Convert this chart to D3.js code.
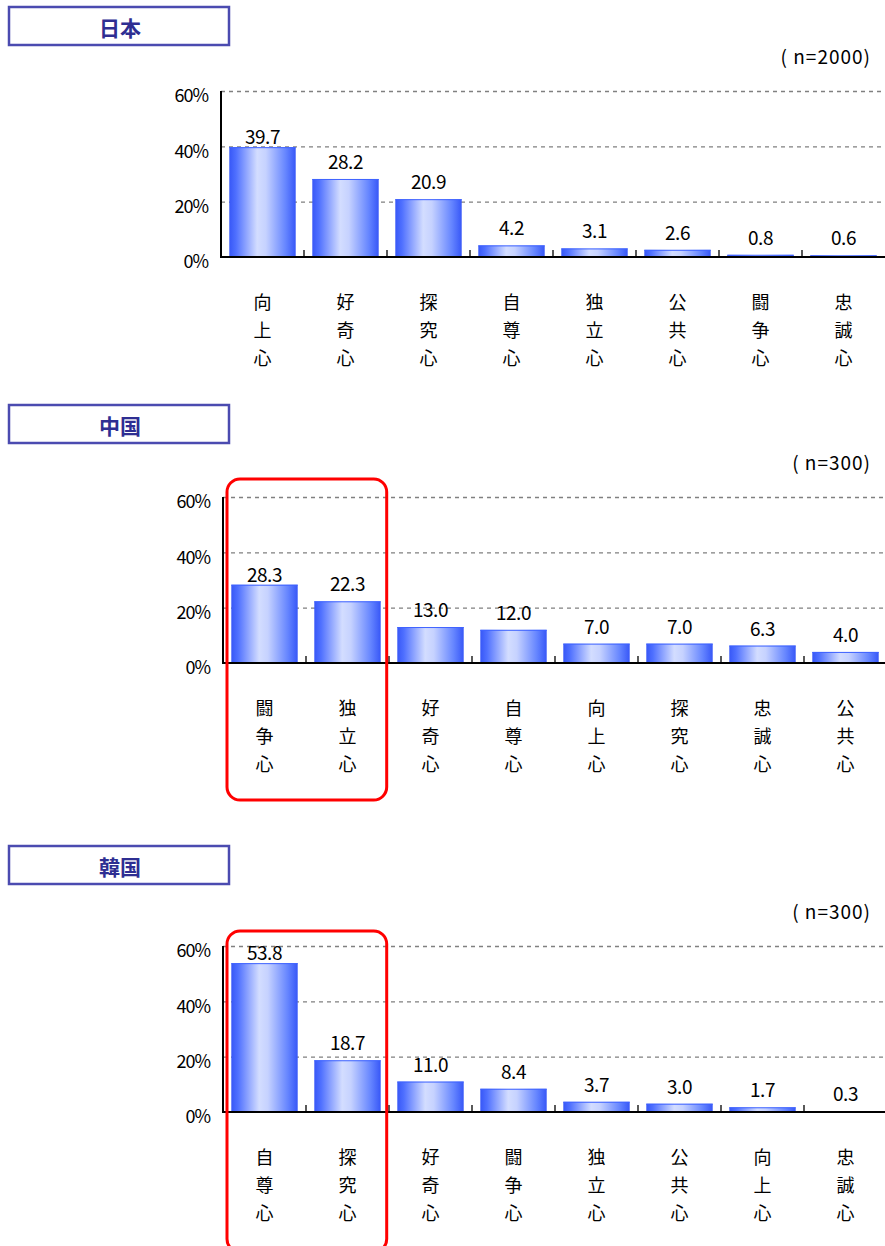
<!DOCTYPE html>
<html>
<head>
<meta charset="utf-8">
<script src="https://cdn.jsdelivr.net/npm/d3@7"></script>
<style>
  body { margin: 0; background: #fff; }
  svg text { font-family: "Noto Sans CJK JP", "DejaVu Sans", sans-serif; }
</style>
</head>
<body>
<div id="chart"></div>
<script>
// data
var jpCats = ["向上心", "好奇心", "探究心", "自尊心", "独立心", "公共心", "闘争心", "忠誠心"];
var jpVals = [39.7, 28.2, 20.9, 4.2, 3.1, 2.6, 0.8, 0.6];

var cnCats = ["闘争心", "独立心", "好奇心", "自尊心", "向上心", "探究心", "忠誠心", "公共心"];
var cnVals = [28.3, 22.3, 13.0, 12.0, 7.0, 7.0, 6.3, 4.0];

var krCats = ["自尊心", "探究心", "好奇心", "闘争心", "独立心", "公共心", "向上心", "忠誠心"];
var krVals = [53.8, 18.7, 11.0, 8.4, 3.7, 3.0, 1.7, 0.3];

var yTicks = [0, 20, 40, 60];

var W = 885, H = 1246;
var plotW = 664, plotH = 166;

var svg = d3.select("#chart").append("svg")
	.attr("width", W)
	.attr("height", H);

// gradient of the bars
var grad = svg.append("defs").append("linearGradient")
	.attr("id", "barGrad")
	.attr("x1", "0").attr("x2", "1").attr("y1", "0").attr("y2", "0");
[[0, "#3757f7"], [0.1, "#4f70ff"], [0.42, "#d3ddff"], [0.55, "#c6d2ff"], [0.85, "#6585ff"], [1, "#3757f7"]]
	.forEach(function(s) {
		grad.append("stop").attr("offset", s[0]).attr("stop-color", s[1]);
	});

function drawPanel(cfg) {
	// title box
	svg.append("rect")
		.attr("x", 9).attr("y", cfg.titleY)
		.attr("width", 220).attr("height", 38)
		.attr("fill", "#fff")
		.attr("stroke", "#4b4bb0")
		.attr("stroke-width", 2.5);
	svg.append("text")
		.attr("x", 120).attr("y", cfg.titleY + 20)
		.attr("text-anchor", "middle")
		.attr("dominant-baseline", "central")
		.attr("font-size", 21)
		.attr("font-weight", "bold")
		.attr("fill", "#2e2e92")
		.text(cfg.title);

	var g = svg.append("g")
		.attr("transform", "translate(" + cfg.axisX + "," + cfg.top + ")");

	var x = d3.scaleBand()
		.domain(cfg.cats)
		.range([0, plotW])
		.paddingInner(0.2)
		.paddingOuter(0.1);

	var y = d3.scaleLinear()
		.domain([0, 60])
		.range([plotH, 0]);

	// y axis with dashed grid
	var yAxis = g.append("g")
		.call(d3.axisLeft(y)
			.tickValues(yTicks)
			.tickSize(-plotW)
			.tickPadding(13)
			.tickFormat(function(d) { return d + "%"; }));
	yAxis.select(".domain").remove();
	yAxis.selectAll("line")
		.attr("stroke", "#808080")
		.attr("stroke-width", 1.3)
		.attr("stroke-dasharray", "4,4")
		.filter(function(d) { return d === 0; }).remove();
	yAxis.selectAll("text")
		.attr("font-size", 18)
		.attr("fill", "#000")
		.attr("dy", "0.6em")
		.attr("letter-spacing", "-1");

	// bars
	g.selectAll("rect.bar")
		.data(cfg.vals)
		.enter().append("rect")
		.attr("class", "bar")
		.attr("x", function(d, i) { return x(cfg.cats[i]); })
		.attr("y", function(d) { return y(d); })
		.attr("width", x.bandwidth())
		.attr("height", function(d) { return plotH - y(d); })
		.attr("fill", "url(#barGrad)");
	g.selectAll("line.bartop")
		.data(cfg.vals)
		.enter().append("line")
		.attr("x1", function(d, i) { return x(cfg.cats[i]); })
		.attr("x2", function(d, i) { return x(cfg.cats[i]) + x.bandwidth(); })
		.attr("y1", function(d) { return y(d) + 0.5; })
		.attr("y2", function(d) { return y(d) + 0.5; })
		.attr("stroke", "#3f63ff")
		.attr("stroke-width", 1);

	// value labels
	g.selectAll("text.val")
		.data(cfg.vals)
		.enter().append("text")
		.attr("class", "val")
		.attr("x", function(d, i) { return x(cfg.cats[i]) + x.bandwidth() / 2; })
		.attr("y", function(d, i) { return y(d) - (i === 0 ? 3 : 10); })
		.attr("text-anchor", "middle")
		.attr("font-size", 19)
		.attr("fill", "#000")
		.attr("letter-spacing", "-0.5")
		.text(function(d) { return d.toFixed(1); });

	// axes lines
	g.append("line")
		.attr("x1", 0).attr("x2", 0)
		.attr("y1", 0).attr("y2", plotH + 1)
		.attr("stroke", "#000").attr("stroke-width", 2);
	g.append("line")
		.attr("x1", -1).attr("x2", plotW)
		.attr("y1", plotH).attr("y2", plotH)
		.attr("stroke", "#000").attr("stroke-width", 2);

	// category boundary ticks
	g.selectAll("line.xtick")
		.data(cfg.cats.slice(1))
		.enter().append("line")
		.attr("x1", function(d) { return x(d) - x.step() * 0.1; })
		.attr("x2", function(d) { return x(d) - x.step() * 0.1; })
		.attr("y1", plotH - 7).attr("y2", plotH)
		.attr("stroke", "#000").attr("stroke-width", 1.3);

	// vertical category labels
	cfg.cats.forEach(function(c) {
		var t = g.append("text")
			.attr("text-anchor", "middle")
			.attr("font-size", 18)
			.attr("fill", "#000");
		c.split("").forEach(function(ch, k) {
			t.append("tspan")
				.attr("x", x(c) + x.bandwidth() / 2)
				.attr("y", plotH + 52 + k * 28)
				.text(ch);
		});
	});

	// sample size
	svg.append("text")
		.attr("x", 871).attr("y", cfg.top - 27)
		.attr("text-anchor", "end")
		.attr("font-size", 19)
		.attr("letter-spacing", "1")
		.attr("fill", "#000")
		.text(cfg.n);

	// highlight box around first two categories
	if (cfg.box) {
		var bx0 = cfg.axisX + 4;
		var bx1 = cfg.axisX + x(cfg.cats[1]) + x.bandwidth() + 6;
		svg.append("rect")
			.attr("x", bx0).attr("y", cfg.box[0])
			.attr("width", bx1 - bx0).attr("height", cfg.box[1] - cfg.box[0])
			.attr("rx", 13).attr("ry", 13)
			.attr("fill", "none")
			.attr("stroke", "#ff0000")
			.attr("stroke-width", 3);
	}
}

drawPanel({ title: "日本", titleY: 7, axisX: 221, top: 91, cats: jpCats, vals: jpVals, n: "( n=2000)" });
drawPanel({ title: "中国", titleY: 405, axisX: 223, top: 497, cats: cnCats, vals: cnVals, n: "( n=300)", box: [479, 800] });
drawPanel({ title: "韓国", titleY: 846, axisX: 223, top: 946, cats: krCats, vals: krVals, n: "( n=300)", box: [931, 1252] });
</script>
</body>
</html>
